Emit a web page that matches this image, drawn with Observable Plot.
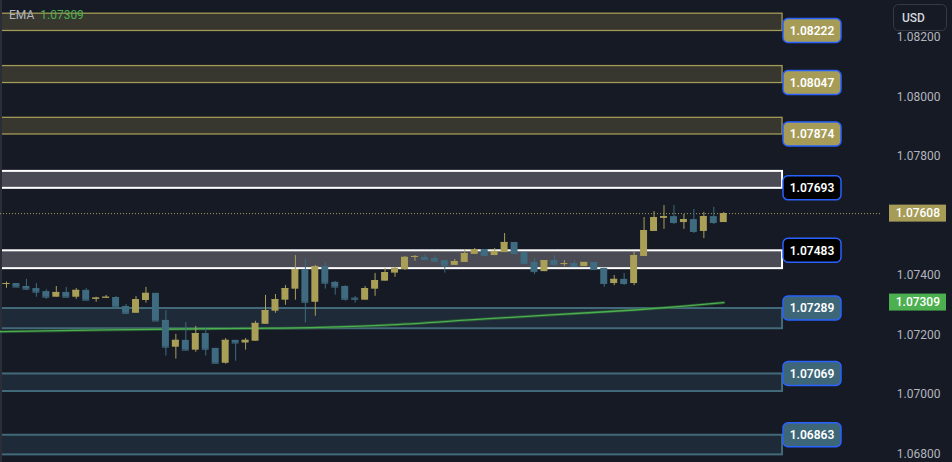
<!DOCTYPE html>
<html>
<head>
<meta charset="utf-8">
<script src="https://cdn.jsdelivr.net/npm/d3@7"></script>
<script src="https://cdn.jsdelivr.net/npm/@observablehq/plot@0.6"></script>
<style>
  html, body { margin: 0; padding: 0; background: #161a25; overflow: hidden; }
  #chart svg { display: block; }
</style>
</head>
<body>
<div id="chart"></div>
<script>
// ---- Candles (EUR/USD) ----
const opens = [1.07371,1.07373,1.07363,1.07356,1.07346,1.07327,1.07343,1.07327,1.07350,1.07320,1.07324,1.07326,1.07296,1.07273,1.07316,1.07340,1.07249,1.07159,1.07182,1.07149,1.07205,1.07155,1.07105,1.07182,1.07173,1.07179,1.07236,1.07280,1.07317,1.07354,1.07420,1.07310,1.07430,1.07377,1.07363,1.07324,1.07317,1.07354,1.07381,1.07408,1.07420,1.07461,1.07461,1.07457,1.07450,1.07434,1.07444,1.07471,1.07487,1.07467,1.07477,1.07511,1.07477,1.07444,1.07413,1.07450,1.07439,1.07440,1.07430,1.07444,1.07424,1.07373,1.07387,1.07373,1.07464,1.07548,1.07592,1.07598,1.07578,1.07588,1.07548,1.07598,1.07578];
const highs = [1.07378,1.07373,1.07387,1.07373,1.07352,1.07363,1.07360,1.07356,1.07356,1.07327,1.07333,1.07329,1.07303,1.07329,1.07360,1.07340,1.07282,1.07202,1.07242,1.07229,1.07222,1.07155,1.07188,1.07182,1.07188,1.07246,1.07333,1.07336,1.07366,1.07467,1.07454,1.07434,1.07444,1.07380,1.07366,1.07330,1.07363,1.07407,1.07424,1.07427,1.07464,1.07467,1.07471,1.07467,1.07450,1.07454,1.07487,1.07491,1.07487,1.07491,1.07541,1.07511,1.07477,1.07457,1.07450,1.07467,1.07450,1.07450,1.07444,1.07444,1.07424,1.07400,1.07407,1.07481,1.07595,1.07615,1.07635,1.07635,1.07605,1.07622,1.07612,1.07629,1.07612];
const lows = [1.07357,1.07361,1.07350,1.07327,1.07320,1.07327,1.07327,1.07320,1.07317,1.07310,1.07324,1.07287,1.07270,1.07273,1.07307,1.07247,1.07129,1.07119,1.07149,1.07142,1.07129,1.07105,1.07102,1.07112,1.07149,1.07179,1.07236,1.07273,1.07300,1.07317,1.07240,1.07263,1.07354,1.07334,1.07314,1.07307,1.07317,1.07330,1.07381,1.07394,1.07417,1.07448,1.07450,1.07448,1.07408,1.07434,1.07444,1.07471,1.07467,1.07467,1.07477,1.07471,1.07440,1.07403,1.07413,1.07430,1.07430,1.07430,1.07430,1.07420,1.07360,1.07366,1.07366,1.07366,1.07464,1.07548,1.07555,1.07571,1.07555,1.07541,1.07524,1.07571,1.07578];
const closes = [1.07373,1.07361,1.07354,1.07344,1.07327,1.07343,1.07327,1.07350,1.07317,1.07324,1.07327,1.07294,1.07273,1.07319,1.07340,1.07247,1.07159,1.07182,1.07149,1.07205,1.07152,1.07105,1.07182,1.07173,1.07182,1.07239,1.07282,1.07319,1.07356,1.07420,1.07310,1.07430,1.07374,1.07361,1.07320,1.07320,1.07356,1.07383,1.07410,1.07424,1.07461,1.07464,1.07454,1.07448,1.07434,1.07447,1.07474,1.07487,1.07467,1.07481,1.07511,1.07474,1.07440,1.07413,1.07450,1.07437,1.07440,1.07430,1.07444,1.07420,1.07373,1.07387,1.07373,1.07467,1.07551,1.07595,1.07598,1.07578,1.07588,1.07548,1.07598,1.07578,1.07608];

// ---- EMA (read at selected bar positions) ----
const emaBars = [-1, 10, 20, 28, 38, 48, 58, 63, 68, 72];
const emaValues = [1.07211, 1.07217, 1.07221, 1.07223, 1.07233, 1.07254, 1.07274, 1.07284, 1.07297, 1.07309];

// ---- Zones ----
const zoneLevels = [1.08222, 1.08047, 1.07874, 1.07693, 1.07483, 1.07289, 1.07069, 1.06863];
const zoneEdges  = [1.08280, 1.08104, 1.07930, 1.07750, 1.07423, 1.07221, 1.07010, 1.06797];
const zoneKinds  = ["gold", "gold", "gold", "white", "white", "teal", "teal", "teal"];

// ---- Price axis (1.07600 is hidden behind the last-price tag) ----
const yTicks = [1.082, 1.080, 1.078, 1.074, 1.072, 1.070, 1.068];
const lastPrice = 1.07608;
const emaLast = 1.07309;
const unitLabel = "USD";
const legendName = "EMA";

// ---- styling ----
const BG = "#161a25";
const UP = "#a99f57", DOWN = "#3e6b7f";
const zoneStyle = {
  gold:  {fill: "#37372f", stroke: "#a39a55", width: 1.3, label: "#a69c57"},
  white: {fill: "#4a4b55", stroke: "#ffffff", width: 2,   label: "#000000"},
  teal:  {fill: "#1e2a37", stroke: "#436a7a", width: 2,   label: "#3d6678"}
};

const W = 952, H = 462;
const xDomain = [-0.6023, 94.96];
const yDomain = [1.067714, 1.083244];
const ZONE_END = 77.9;   // bar-position where zone boxes end (label column starts)
const DOT_END = 87.9;    // end of the last-price dotted line

const bars = opens.map((o, i) => ({i, o, h: highs[i], l: lows[i], c: closes[i], up: closes[i] >= opens[i]}));
const ema = emaBars.map((b, k) => ({i: b, v: emaValues[k]}));
const zones = zoneLevels.map((v, k) => ({v, e: zoneEdges[k], kind: zoneKinds[k]}));

function labelMark(items, opts) {
  return (index, scales) => {
    const y = scales.y;
    const g = d3.create("svg:g");
    for (const it of items) {
      const cy = y(it.v);
      g.append("rect")
        .attr("x", opts.x0).attr("y", cy - opts.h / 2)
        .attr("width", opts.x1 - opts.x0).attr("height", opts.h)
        .attr("rx", opts.rx).attr("fill", it.fill)
        .attr("stroke", it.stroke || "none").attr("stroke-width", it.stroke ? 1.5 : 0);
      g.append("text")
        .attr("x", opts.tx).attr("y", cy).attr("dy", "0.36em")
        .attr("text-anchor", opts.anchor).attr("fill", "#ffffff")
        .attr("font-size", 12).attr("font-weight", opts.fontWeight)
        .attr("font-family", "Roboto, sans-serif")
        .text(it.text);
    }
    return g.node();
  };
}

const zoneLabelItems = zones.map(z => ({v: z.v, text: z.v.toFixed(5), fill: zoneStyle[z.kind].label, stroke: "#2962ff"}));
const priceBoxItems = [
  {v: lastPrice, text: lastPrice.toFixed(5), fill: "#a69c57"},
  {v: emaLast, text: emaLast.toFixed(5), fill: "#4caf50"}
];

const zoneMarks = ["gold", "white", "teal"].map(kind =>
  Plot.rect(zones.filter(z => z.kind === kind), {
    x1: -1.2, x2: ZONE_END, y1: "e", y2: "v",
    fill: zoneStyle[kind].fill, stroke: zoneStyle[kind].stroke, strokeWidth: zoneStyle[kind].width
  })
);

const chart = Plot.plot({
  width: W, height: H, margin: 0,
  x: {domain: xDomain, axis: null},
  y: {domain: yDomain, axis: null},
  style: {background: BG, fontFamily: "Roboto, sans-serif", overflow: "hidden"},
  marks: [
    ...zoneMarks,
    Plot.ruleX([xDomain[0]], {stroke: "#2a2e39", strokeWidth: 3}),
    Plot.ruleY([lastPrice], {x1: xDomain[0], x2: DOT_END, stroke: "#a69c57", strokeDasharray: "1,2", strokeWidth: 1}),
    Plot.line(ema, {x: "i", y: "v", stroke: "#2f6e33", strokeWidth: 3, strokeOpacity: 0.6, curve: "monotone-x"}),
    Plot.line(ema, {x: "i", y: "v", stroke: "#4caf50", strokeWidth: 1.3, curve: "monotone-x"}),
    Plot.ruleX(bars, {x: "i", y1: "l", y2: "h", stroke: d => d.up ? UP : DOWN, strokeWidth: 1}),
    Plot.rect(bars, {x1: d => d.i - 0.35, x2: d => d.i + 0.35, y1: "o", y2: "c", fill: d => d.up ? UP : DOWN}),
    Plot.ruleY(bars, {x1: d => d.i - 0.35, x2: d => d.i + 0.35, y: "c", stroke: d => d.up ? UP : DOWN, strokeWidth: 1}),
    labelMark(zoneLabelItems, {x0: 783, x1: 841, h: 24, rx: 5, tx: 812, anchor: "middle", fontWeight: 600}),
    Plot.text(yTicks, {y: d => d, text: d => d.toFixed(5), frameAnchor: "right", dx: -12, textAnchor: "end", fill: "#b2b5be", fontSize: 12}),
    labelMark(priceBoxItems, {x0: 889, x1: 946, h: 17, rx: 0, tx: 940, anchor: "end", fontWeight: 500}),
    // unit button
    () => {
      const g = d3.create("svg:g");
      g.append("rect").attr("x", 893.5).attr("y", 4.5).attr("width", 53).attr("height", 26)
        .attr("rx", 5).attr("fill", "#161a25").attr("stroke", "#363a45").attr("stroke-width", 1);
      g.append("text").attr("x", 902).attr("y", 17.5).attr("dy", "0.36em")
        .attr("text-anchor", "start")
        .attr("fill", "#d1d4dc").attr("font-size", 12).attr("font-weight", 500)
        .attr("font-family", "Roboto, sans-serif").text(unitLabel);
      return g.node();
    },
    // EMA legend
    () => {
      const t = d3.create("svg:text").attr("x", 9).attr("y", 15).attr("dy", "0.36em")
        .attr("text-anchor", "start")
        .attr("font-size", 12).attr("font-family", "Roboto, sans-serif");
      t.append("tspan").attr("fill", "#b2b5be").text(legendName);
      t.append("tspan").attr("fill", "#4caf50").attr("dx", 6).text(emaLast.toFixed(5));
      return t.node();
    }
  ]
});

document.getElementById("chart").appendChild(chart);
</script>
</body>
</html>
